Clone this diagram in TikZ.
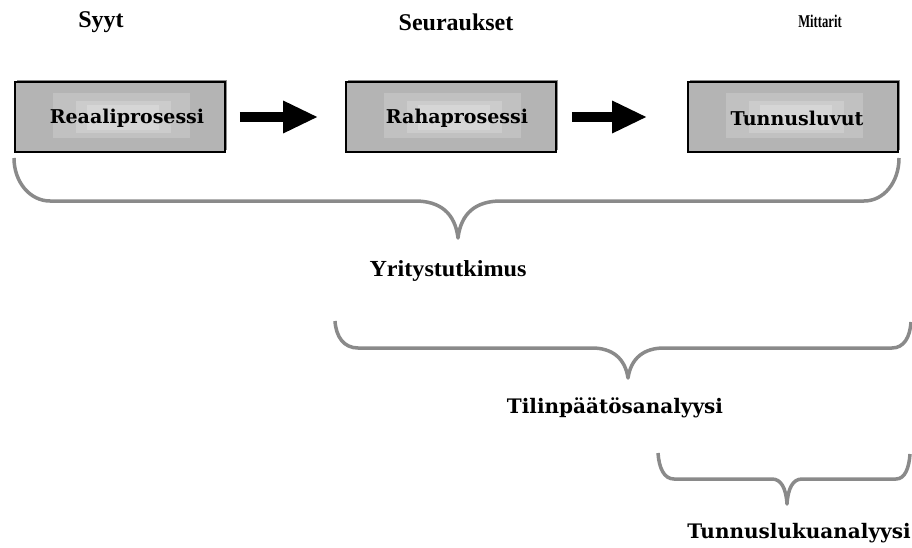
\documentclass[tikz,border=0pt]{standalone}
\usepackage{fontspec}
\setmainfont{Liberation Serif}
\newfontfamily\boxfont{DejaVu Serif}
\usetikzlibrary{arrows.meta,shadows}
\definecolor{boxgray}{HTML}{B4B4B4}
\definecolor{glowa}{HTML}{C1C1C1}
\definecolor{glowb}{HTML}{CCCCCC}
\definecolor{glowc}{HTML}{D6D6D6}
\definecolor{shadowgray}{HTML}{8C8C8C}
\definecolor{bracegray}{HTML}{8A8A8A}
\begin{document}
\begin{tikzpicture}[x=1pt,y=-1pt,
  procbox/.style={draw=black, line width=1.6pt, fill=boxgray,
    minimum width=210pt, minimum height=70pt, inner sep=0pt,
    font=\boxfont\bfseries\fontsize{19}{22}\selectfont,
    drop shadow={shadow xshift=2pt, shadow yshift=2pt, fill=shadowgray, opacity=1},
    path picture={
      \fill[glowa] ([shift={(-67pt,-21pt)}]path picture bounding box.center)
        rectangle ([shift={(70pt,24pt)}]path picture bounding box.center);
      \fill[glowb] ([shift={(-44pt,-16pt)}]path picture bounding box.center)
        rectangle ([shift={(51pt,16pt)}]path picture bounding box.center);
      \fill[glowc] ([shift={(-33pt,-13pt)}]path picture bounding box.center)
        rectangle ([shift={(39pt,12pt)}]path picture bounding box.center);
    }},
  boxtext/.style={font=\boxfont\bfseries\fontsize{19}{22}\selectfont, inner sep=0pt},
  bigarrow/.style={line width=10pt, -{Triangle[length=35pt,width=30pt]}},
  brace/.style={draw=bracegray, line width=3.5pt, line join=round},
  hdr/.style={font=\bfseries\fontsize{24}{26}\selectfont, inner sep=0pt},
  lbl/.style={font=\boxfont\bfseries\fontsize{20}{23}\selectfont, inner sep=0pt}]

  \useasboundingbox (0,0) rectangle (912,548);

  % column headings
  \node[hdr] (syyt) at (101,22) {Syyt};
  \node[hdr] (seur) at (456,22) {Seuraukset};
  \node[hdr, font=\bfseries\fontsize{18}{20}\selectfont, xscale=0.7] (mitt) at (820,21) {Mittarit};

  % process boxes
  \node[procbox] (b1) at (120,117) {};
  \node[procbox] (b2) at (451,117) {};
  \node[procbox] (b3) at (793,117) {};
  \node[boxtext] (t1) at (127,118) {Reaaliprosessi};
  \node[boxtext] (t2) at (457,118) {Rahaprosessi};
  \node[boxtext] (t3) at (797,118) {Tunnusluvut};

  % flow arrows
  \draw[bigarrow, shorten <=14pt, shorten >=27pt] (b1) -- (b2);
  \draw[bigarrow, shorten <=15pt, shorten >=40pt] (b2) -- (b3);

  % brace over the whole chain
  \draw[brace] (14,158) .. controls (14,182) and (30,201) .. (50,201) -- (415,201)
    .. controls (440,201) and (455,213) .. (458,238)
    .. controls (461,213) and (476,201) .. (501,201) -- (864,201)
    .. controls (884,201) and (899,182) .. (899,158);
  \node[hdr, font=\bfseries\fontsize{23}{26}\selectfont, xscale=1.05] (yrit) at (448,271) {Yritystutkimus};

  % brace over money process and ratios
  \draw[brace] (335,321) .. controls (336,337) and (344,348) .. (358,348) -- (592,348)
    .. controls (612,348) and (625,358) .. (628,378)
    .. controls (631,358) and (644,348) .. (664,348) -- (892,348)
    .. controls (904,348) and (910,337) .. (911,322);
  \node[lbl] (tilin) at (615,408) {Tilinpäätösanalyysi};

  % brace over ratios
  \draw[brace] (658,453) .. controls (659,468) and (664,479) .. (674,479) -- (772,479)
    .. controls (781,479) and (786,488) .. (787,504)
    .. controls (788,488) and (793,479) .. (802,479) -- (896,479)
    .. controls (905,479) and (909,468) .. (910,454);
  \node[lbl] (tunn) at (799,533) {Tunnuslukuanalyysi};
\end{tikzpicture}
\end{document}
